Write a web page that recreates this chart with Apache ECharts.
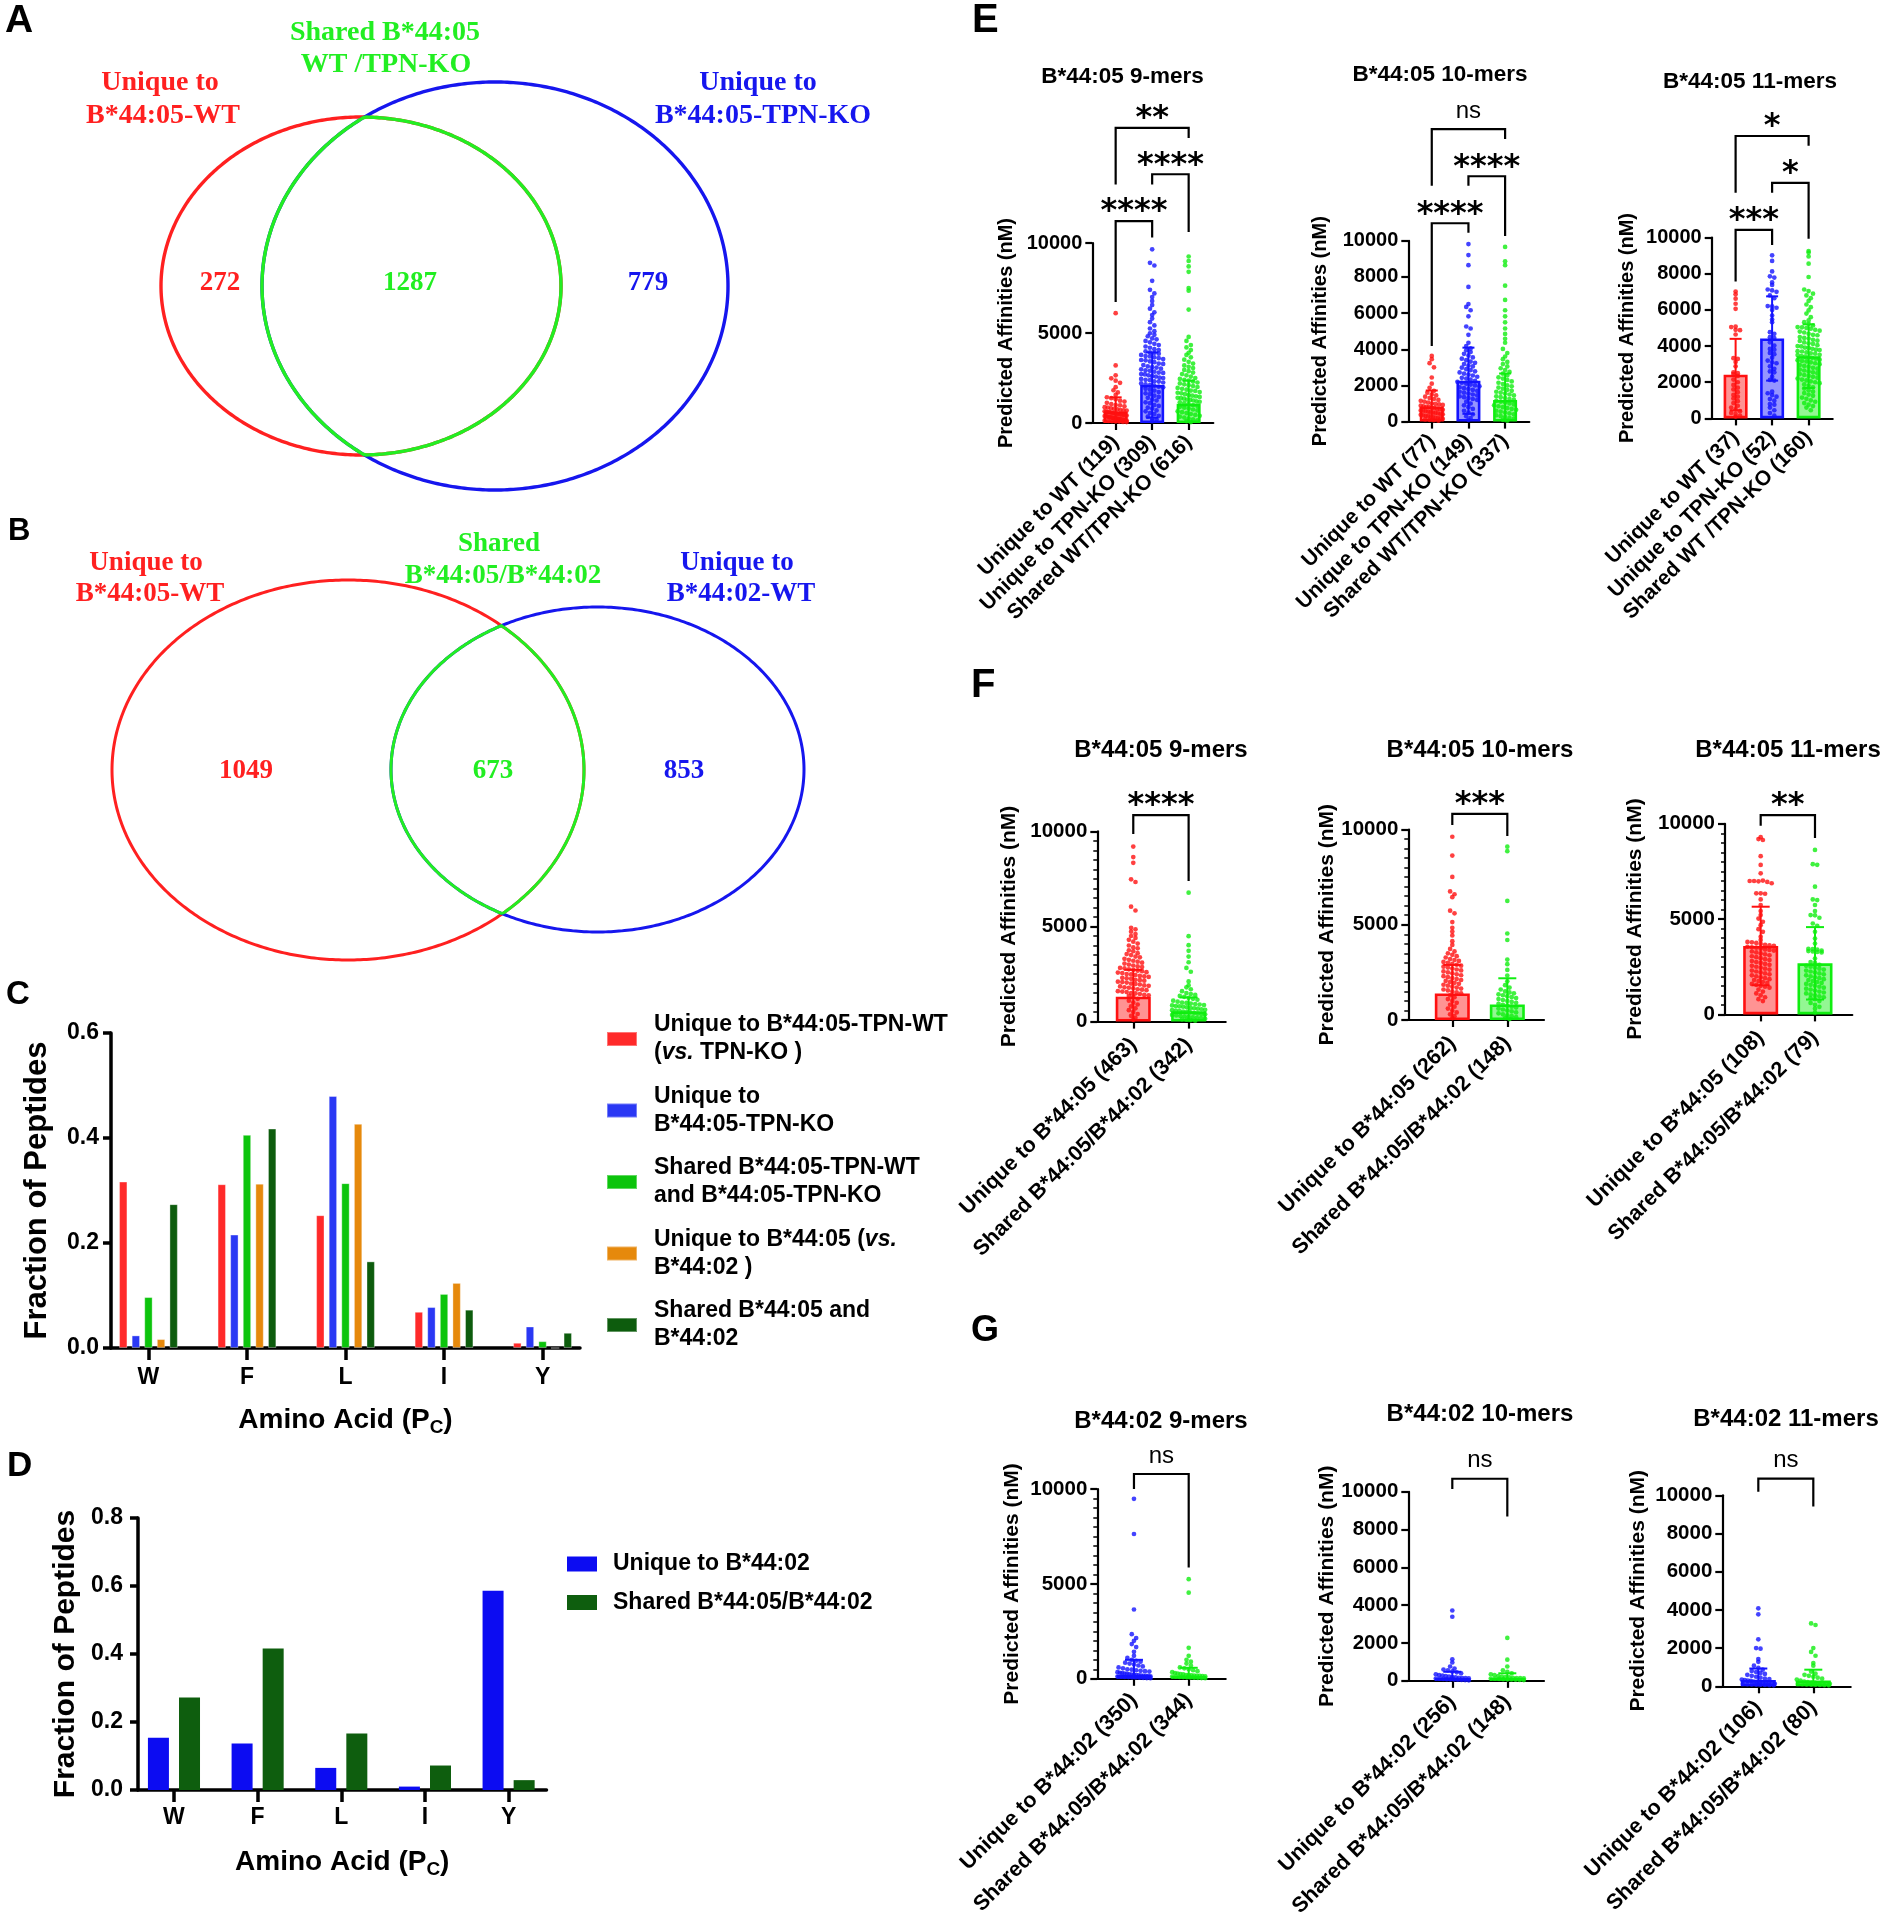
<!DOCTYPE html>
<html lang="en">
<head>
<meta charset="UTF-8">
<title>B*44:05 / B*44:02 peptide repertoires</title>
<script src="https://cdn.jsdelivr.net/npm/echarts@6/dist/echarts.min.js"></script>
<style>
    html, body { margin: 0; padding: 0; background: #fff; }
    #chart { width: 1884px; height: 1920px; }
</style>
</head>
<body>
<div id="chart"></div>
<script>
// ---------- data ----------
// A / B : Venn counts (left, shared, right)
var vennACounts = [272, 1287, 779];
var vennBCounts = [1049, 673, 853];

// C / D : fraction of peptides by C-terminal amino acid
var aminoAcids = ['W', 'F', 'L', 'I', 'Y'];
var cUniqueTpnWt = [0.317, 0.312, 0.253, 0.069, 0.010];
var cUniqueTpnKo = [0.024, 0.216, 0.480, 0.078, 0.041];
var cSharedWtKo = [0.097, 0.406, 0.314, 0.103, 0.013];
var cUnique4405 = [0.017, 0.313, 0.427, 0.124, 0.000];
var cShared4405_4402 = [0.274, 0.418, 0.165, 0.073, 0.029];
var dUnique4402 = [0.154, 0.137, 0.065, 0.010, 0.586];
var dShared4405_4402 = [0.272, 0.416, 0.166, 0.072, 0.029];

// E : B*44:05 WT vs TPN-KO predicted affinities (nM)
var e9Labels = ['Unique to WT (119)', 'Unique to TPN-KO (309)', 'Shared WT/TPN-KO (616)'];
var e9Mean = [635, 2110, 1065];
var e9Sd = [790, 1810, 1290];
var e9Wt = [6100, 3200, 2650, 2480, 2350, 2230, 1990, 1820, 1700, 1560, 1430, 1380, 1320, 1240, 1190, 1120, 1050, 1000,
    980, 930, 880, 860, 820, 790, 760, 720, 700, 690, 650, 640, 610, 600, 580, 560, 540, 520, 510, 490, 470, 460, 440,
    420, 410, 390, 380, 360, 340, 330, 310, 300, 280, 270, 260, 240, 230, 210, 200, 190, 170, 160, 140, 130, 120, 100, 90, 80, 60, 50];
var e9Ko = [9650, 8900, 8750, 7900, 7400, 7200, 7000, 6780, 6550, 6350, 6150, 6000, 5800, 5600, 5420, 5250, 5100, 4980,
    4900, 4820, 4700, 4650, 4560, 4480, 4400, 4330, 4250, 4180, 4100, 4050, 3980, 3920, 3900, 3850, 3780, 3720, 3700,
    3650, 3600, 3550, 3500, 3480, 3420, 3380, 3300, 3280, 3220, 3150, 3100, 3080, 3020, 2980, 2920, 2900, 2850, 2800,
    2780, 2720, 2700, 2650, 2600, 2580, 2520, 2500, 2450, 2400, 2380, 2320, 2300, 2250, 2200, 2150, 2100, 2080, 2020,
    1980, 1900, 1850, 1800, 1720, 1650, 1600, 1520, 1450, 1400, 1300, 1250, 1150, 1100, 1000, 950, 850, 800, 700, 650,
    550, 500, 400, 350, 250, 200, 100];
var e9Shared = [9250, 9000, 8700, 8400, 7500, 7350, 6300, 4780, 4560, 4330, 4200, 4050, 3900, 3780, 3650, 3520, 3400,
    3300, 3200, 3120, 3050, 2950, 2880, 2800, 2720, 2650, 2580, 2500, 2450, 2400, 2350, 2300, 2250, 2200, 2150, 2100,
    2050, 2000, 1950, 1900, 1850, 1800, 1780, 1720, 1680, 1650, 1600, 1550, 1520, 1480, 1450, 1400, 1380, 1350, 1300,
    1280, 1250, 1200, 1180, 1150, 1100, 1050, 1000, 950, 900, 850, 800, 750, 700, 650, 600, 550, 500, 450, 400, 350,
    300, 250, 200, 150, 100, 50];

var e10Labels = ['Unique to WT (77)', 'Unique to TPN-KO (149)', 'Shared WT/TPN-KO (337)'];
var e10Mean = [840, 2260, 1200];
var e10Sd = [880, 1830, 1460];
var e10Wt = [3630, 3450, 3230, 3000, 2440, 2100, 1870, 1700, 1600, 1500, 1450, 1380, 1300, 1250, 1200, 1150, 1100,
    1050, 1000, 980, 950, 920, 880, 850, 820, 800, 760, 740, 700, 680, 650, 620, 600, 580, 550, 520, 500, 480, 450, 420,
    400, 380, 350, 320, 300, 280, 250, 220, 200, 180, 150, 120, 100, 80, 50];
var e10Ko = [9820, 9210, 8650, 7450, 6500, 6340, 6160, 5820, 5260, 5150, 4800, 4360, 4180, 4050, 3950, 3850, 3750,
    3650, 3550, 3480, 3400, 3320, 3250, 3180, 3100, 3050, 2980, 2900, 2850, 2780, 2720, 2650, 2600, 2550, 2480, 2420,
    2380, 2320, 2260, 2200, 2150, 2100, 2050, 2000, 1950, 1900, 1850, 1800, 1750, 1700, 1650, 1600, 1550, 1500, 1450,
    1400, 1350, 1300, 1250, 1200, 1100, 1000, 900, 800, 700, 600, 500, 400, 300, 200, 100];
var e10Shared = [9660, 8870, 8650, 7520, 6730, 6160, 5820, 5490, 5150, 4850, 4580, 4360, 4020, 3790, 3600, 3450, 3300,
    3180, 3050, 2950, 2850, 2750, 2650, 2550, 2450, 2380, 2300, 2220, 2150, 2080, 2000, 1950, 1880, 1820, 1760, 1700,
    1650, 1600, 1550, 1500, 1450, 1400, 1350, 1300, 1250, 1200, 1150, 1100, 1050, 1000, 950, 900, 850, 800, 750, 700,
    650, 600, 550, 500, 450, 400, 350, 300, 250, 200, 150, 100, 50];

var e11Labels = ['Unique to WT (37)', 'Unique to TPN-KO (52)', 'Shared WT /TPN-KO (160)'];
var e11Mean = [2420, 4420, 3440];
var e11Sd = [1980, 2330, 1760];
var e11Wt = [7020, 6860, 6620, 6340, 6060, 5080, 5050, 4900, 4880, 4640, 3330, 3290, 3120, 2880, 2550, 2500, 2450,
    2350, 2150, 2000, 1850, 1700, 1600, 1450, 1300, 1200, 1100, 950, 850, 700, 600, 500, 400, 300, 250, 150, 100];
var e11Ko = [9020, 8710, 8130, 7860, 7790, 7520, 7380, 7130, 7080, 7000, 6800, 6650, 6210, 6200, 6120, 6000, 5690,
    5470, 5320, 4770, 4680, 4490, 4440, 4210, 4030, 3840, 3800, 3620, 3550, 3360, 3200, 3100, 3050, 2880, 2740, 2600,
    2550, 2310, 2130, 2090, 1480, 1390, 1290, 1070, 980, 790, 760, 600, 450, 300, 150, 1200];
var e11Shared = [9260, 9170, 8960, 8560, 7820, 7130, 7040, 6900, 6800, 6650, 6500, 6300, 6150, 5970, 5800, 5600, 5420,
    5320, 5230, 5140, 5050, 5040, 5000, 4960, 4900, 4850, 4800, 4750, 4680, 4620, 4600, 4500, 4450, 4420, 4350, 4300,
    4280, 4200, 4150, 4120, 4050, 4000, 3980, 3920, 3900, 3850, 3800, 3780, 3720, 3700, 3650, 3600, 3580, 3520, 3500,
    3450, 3420, 3380, 3350, 3300, 3250, 3220, 3180, 3150, 3100, 3050, 3000, 2950, 2900, 2850, 2800, 2750, 2700, 2650,
    2600, 2550, 2500, 2450, 2400, 2350, 2300, 2250, 2200, 2150, 2100, 2050, 2000, 1950, 1880, 1800, 1720, 1650, 1560,
    1480, 1400, 1320, 1250, 1150, 1080, 1000, 920, 850, 760, 680, 600, 450];

// F : unique to B*44:05 vs shared with B*44:02
var f9Labels = ['Unique to B*44:05 (463)', 'Shared B*44:05/B*44:02 (342)'];
var f9Mean = [1310, 540];
var f9Sd = [1410, 730];
var f9Unique = [9200, 8650, 8350, 7480, 7340, 6040, 5840, 4930, 4850, 4730, 4600, 4500, 4400, 4300, 4200, 4100, 4000,
    3900, 3850, 3750, 3700, 3600, 3550, 3500, 3420, 3380, 3300, 3250, 3200, 3150, 3100, 3050, 3000, 2950, 2900, 2870,
    2820, 2800, 2750, 2720, 2680, 2650, 2600, 2580, 2550, 2500, 2480, 2450, 2400, 2380, 2350, 2300, 2280, 2250, 2200,
    2180, 2150, 2100, 2080, 2050, 2000, 1980, 1950, 1900, 1880, 1850, 1800, 1780, 1750, 1700, 1680, 1650, 1600, 1580,
    1550, 1500, 1480, 1450, 1400, 1380, 1350, 1300, 1200, 1100, 1000, 900, 800, 700, 600, 500, 400, 300, 200, 100];
var f9Shared = [6780, 4490, 4020, 3720, 3420, 3120, 2820, 2620, 2110, 1910, 1800, 1700, 1600, 1500, 1450, 1400, 1350,
    1300, 1250, 1200, 1150, 1100, 1050, 1000, 980, 950, 920, 900, 870, 850, 820, 800, 780, 750, 720, 700, 680, 650, 620,
    600, 580, 550, 520, 500, 480, 450, 420, 400, 380, 350, 320, 300, 280, 250, 220, 200, 180, 150, 120, 100, 80, 50];

var f10Labels = ['Unique to B*44:05 (262)', 'Shared B*44:05/B*44:02 (148)'];
var f10Mean = [1390, 820];
var f10Sd = [1500, 1370];
var f10Unique = [9620, 8630, 7510, 6750, 6600, 6450, 5740, 5600, 5140, 4840, 4640, 4440, 4140, 3940, 3730, 3600, 3500,
    3420, 3350, 3280, 3200, 3150, 3100, 3050, 3000, 2950, 2900, 2850, 2800, 2750, 2700, 2650, 2600, 2550, 2500, 2450,
    2400, 2350, 2300, 2250, 2200, 2150, 2100, 2050, 2000, 1950, 1900, 1850, 1800, 1750, 1700, 1650, 1600, 1550, 1500,
    1450, 1400, 1300, 1200, 1100, 1000, 900, 800, 700, 600, 500, 400, 300, 200, 100];
var f10Shared = [9100, 8860, 6250, 4540, 4200, 3170, 2930, 2630, 2330, 2030, 1830, 1700, 1600, 1500, 1450, 1400, 1350,
    1300, 1250, 1200, 1150, 1100, 1050, 1000, 950, 900, 850, 800, 750, 700, 650, 600, 550, 500, 450, 400, 350, 300, 250,
    200, 150, 100, 50];

var f11Labels = ['Unique to B*44:05 (108)', 'Shared B*44:05/B*44:02 (79)'];
var f11Mean = [3590, 2680];
var f11Sd = [2060, 1900];
var f11Unique = [9300, 9200, 9150, 8300, 7840, 7400, 7000, 7000, 6980, 7020, 6950, 6880, 6350, 6350, 6330, 6030, 5740,
    5420, 5210, 5030, 4860, 4680, 4470, 4330, 4070, 3900, 3800, 3780, 3750, 3700, 3650, 3620, 3600, 3550, 3520, 3500,
    3450, 3400, 3380, 3350, 3300, 3250, 3200, 3150, 3100, 3050, 3000, 2950, 2900, 2850, 2800, 2750, 2700, 2650, 2600,
    2550, 2500, 2450, 2400, 2350, 2300, 2250, 2200, 2150, 2100, 2050, 2000, 1950, 1900, 1850, 1800, 1750, 1700, 1650,
    1600, 1550, 1500, 1450, 1400, 1300, 1200, 1100, 1000, 900, 800, 700];
var f11Shared = [8630, 7880, 7850, 6700, 6030, 6000, 5740, 5420, 5210, 5200, 5070, 4770, 4650, 4330, 3980, 3720, 3440,
    3420, 3400, 3350, 3320, 3300, 3280, 3250, 2930, 2750, 2700, 2600, 2550, 2500, 2450, 2400, 2350, 2300, 2250, 2200,
    2150, 2100, 2050, 2000, 1950, 1900, 1850, 1800, 1750, 1700, 1650, 1600, 1550, 1500, 1450, 1400, 1350, 1300, 1250,
    1200, 1150, 1100, 1050, 1000, 950, 900, 850, 800, 700, 600, 500, 400, 300, 100];

// G : unique to B*44:02 vs shared with B*44:05
var g9Labels = ['Unique to B*44:02 (350)', 'Shared B*44:05/B*44:02 (344)'];
var g9Mean = [200, 150];
var g9Sd = [800, 430];
var g9Unique = [9480, 7630, 3650, 2350, 2150, 2000, 1830, 1670, 1420, 1210, 1100, 1000, 950, 900, 850, 800, 750, 700,
    650, 600, 550, 500, 480, 450, 420, 400, 380, 350, 320, 300, 280, 260, 240, 220, 200, 190, 180, 170, 160, 150, 140,
    130, 120, 110, 100, 90, 80, 70, 60, 50, 40, 30];
var g9Shared = [5250, 4540, 1630, 1210, 1000, 900, 800, 700, 600, 550, 500, 450, 400, 350, 300, 280, 250, 230, 200,
    190, 180, 170, 160, 150, 140, 130, 120, 110, 100, 90, 80, 70, 60, 50, 40, 30];

var g10Labels = ['Unique to B*44:02 (256)', 'Shared B*44:05/B*44:02 (148)'];
var g10Mean = [150, 150];
var g10Sd = [330, 250];
var g10Unique = [3720, 3390, 1140, 970, 760, 650, 600, 550, 500, 450, 400, 350, 300, 280, 250, 230, 200, 180, 160,
    150, 140, 130, 120, 110, 100, 90, 80, 70, 60, 50, 40, 30];
var g10Shared = [2270, 1120, 760, 560, 480, 400, 350, 300, 250, 220, 200, 180, 160, 150, 140, 130, 120, 110, 100, 90,
    80, 70, 60, 50, 40];

var g11Labels = ['Unique to B*44:02 (106)', 'Shared B*44:05/B*44:02 (80)'];
var g11Mean = [330, 310];
var g11Sd = [600, 560];
var g11Unique = [4080, 3770, 2460, 2000, 1970, 1430, 1280, 1080, 970, 870, 800, 750, 700, 650, 600, 550, 500, 450, 400,
    380, 350, 320, 300, 280, 250, 230, 200, 180, 160, 150, 140, 130, 120, 110, 100, 90, 80, 70, 60, 50];
var g11Shared = [3290, 3210, 2000, 1800, 1600, 1220, 1080, 770, 660, 600, 550, 500, 450, 400, 350, 300, 250, 220, 200,
    180, 160, 150, 140, 130, 120, 110, 100, 90, 80, 70, 60, 50];

// ---------- styles / layout ----------
var SANS = '"Liberation Sans", Arial, sans-serif';
var SERIF = '"Liberation Serif", "Times New Roman", serif';
var RED = '#ff1010', BLUE = '#1414ff', GREEN = '#10ee10';
var FILL = {};
FILL[RED] = 'rgba(255,16,16,0.45)';
FILL[BLUE] = 'rgba(20,20,255,0.45)';
FILL[GREEN] = 'rgba(16,238,16,0.45)';
var VENN_RED = '#ff2020', VENN_GREEN = '#22ee22', VENN_BLUE = '#1616ee';
var DOT = 4.7, DOT_STEP = 4.4;

function font(w, s, fam) { return w + ' ' + s + 'px ' + fam; }

var grids = [], xAxes = [], yAxes = [], series = [];

function addGrid(g, x, y) {
    var i = grids.length;
    grids.push(g);
    x.gridIndex = i; y.gridIndex = i;
    xAxes.push(x); yAxes.push(y);
    return i;
}

// ---------- Venn diagrams (A, B) on a hidden pixel-unit grid ----------
var vennLayouts = [
    {sets: [[361, 286, 200, 169], [495, 286, 233, 204]], lw: 3.4,
        anchors: [[220, 283.5], [410, 283.5], [648, 283.5]], counts: vennACounts},
    {sets: [[348, 770, 236, 190], [597.5, 769.5, 206.5, 162.5]], lw: 3,
        anchors: [[246, 771], [493, 771], [684, 771]], counts: vennBCounts}
];
var vennGrid = addGrid({left: 0, top: 0, width: 940, height: 980},
    {type: 'value', min: 0, max: 940, show: false},
    {type: 'value', min: 0, max: 980, inverse: true, show: false});

function ellipseArc(e, api, t0, keep) {
    var pts = [];
    for (var k = 0; k <= 480; k++) {
        var t = t0 + 2 * Math.PI * k / 480;
        var x = e[0] + e[2] * Math.cos(t), y = e[1] + e[3] * Math.sin(t);
        if (!keep || keep(x, y)) pts.push(api.coord([x, y]));
    }
    return pts;
}
function insideOf(e) {
    return function (x, y) {
        var dx = (x - e[0]) / e[2], dy = (y - e[1]) / e[3];
        return dx * dx + dy * dy <= 1;
    };
}

series.push({
    type: 'custom', xAxisIndex: vennGrid, yAxisIndex: vennGrid, clip: false, silent: true,
    data: vennLayouts.map(function (v) { return [v.sets[0][0], v.sets[0][1]]; }),
    renderItem: function (params, api) {
        var v = vennLayouts[params.dataIndex];
        var r = v.sets[0], b = v.sets[1];
        var lens = ellipseArc(b, api, 0, insideOf(r)).concat(ellipseArc(r, api, Math.PI, insideOf(b)));
        return {type: 'group', children: [
            {type: 'polygon', shape: {points: ellipseArc(r, api, 0)}, style: {fill: 'none', stroke: VENN_RED, lineWidth: v.lw}},
            {type: 'polygon', shape: {points: ellipseArc(b, api, 0)}, style: {fill: 'none', stroke: VENN_BLUE, lineWidth: v.lw}},
            {type: 'polygon', shape: {points: lens}, style: {fill: 'none', stroke: VENN_GREEN, lineWidth: v.lw}}
        ]};
    }
});

var vennCountData = [];
vennLayouts.forEach(function (v) {
    v.counts.forEach(function (c, j) { vennCountData.push([v.anchors[j][0], v.anchors[j][1], c, j]); });
});
series.push({
    type: 'custom', xAxisIndex: vennGrid, yAxisIndex: vennGrid, clip: false, silent: true,
    data: vennCountData,
    renderItem: function (params, api) {
        var p = api.coord([api.value(0), api.value(1)]);
        var col = [VENN_RED, VENN_GREEN, VENN_BLUE][api.value(3)];
        return {type: 'text', x: p[0], y: p[1], style: {
            text: String(api.value(2)), fill: col, font: font('bold', 27, SERIF),
            align: 'center', verticalAlign: 'middle', textAlign: 'center', textVerticalAlign: 'middle'}};
    }
});

// ---------- C and D grouped bars ----------
function barAxes(min, max, ymax, lblSize, yMargin, xMargin, yGap, xGap, ynameSize) {
    return {
        x: {type: 'value', min: min, max: max,
            axisLine: {show: true, onZero: false, lineStyle: {color: '#000', width: 3.5}},
            axisTick: {show: true, customValues: [0, 1, 2, 3, 4], length: 12, lineStyle: {color: '#000', width: 3.5}},
            axisLabel: {customValues: [0, 1, 2, 3, 4], margin: xMargin, color: '#000', fontSize: lblSize, fontWeight: 'bold',
                fontFamily: SANS, formatter: function (v) { return aminoAcids[Math.round(v)]; }},
            splitLine: {show: false},
            name: 'Amino Acid (P{sub|C})', nameLocation: 'middle', nameGap: xGap,
            nameTextStyle: {color: '#000', fontSize: 28, fontWeight: 'bold', fontFamily: SANS,
                rich: {sub: {fontSize: 19, fontWeight: 'bold', fontFamily: SANS, color: '#000', padding: [14, 0, 0, 0]}}}},
        y: {type: 'value', min: 0, max: ymax, interval: 0.2,
            axisLine: {show: true, onZero: false, lineStyle: {color: '#000', width: 3.5}},
            axisTick: {show: true, length: 8, lineStyle: {color: '#000', width: 3.5}},
            axisLabel: {margin: yMargin, color: '#000', fontSize: lblSize, fontWeight: 'bold', fontFamily: SANS,
                formatter: function (v) { return v.toFixed(1); }},
            splitLine: {show: false},
            name: 'Fraction of Peptides', nameLocation: 'middle', nameRotate: 90, nameGap: yGap,
            nameTextStyle: {color: '#000', fontSize: ynameSize, fontWeight: 'bold', fontFamily: SANS}}
    };
}

var cAx = barAxes(-0.38, 4.38, 0.6, 23, 12, 18, 58, 56, 31);
var cGrid = addGrid({left: 111, top: 1033, width: 469, height: 315}, cAx.x, cAx.y);
var dAx = barAxes(-0.43, 4.453, 0.8, 23, 15, 16, 57, 56, 30);
var dGrid = addGrid({left: 138, top: 1518, width: 408.5, height: 272}, dAx.x, dAx.y);

var cSeries = [
    ['Unique to B*44:05-TPN-WT\n(vs. TPN-KO )', cUniqueTpnWt, '#ff2a2a'],
    ['Unique to\nB*44:05-TPN-KO', cUniqueTpnKo, '#2a38f4'],
    ['Shared B*44:05-TPN-WT\nand B*44:05-TPN-KO', cSharedWtKo, '#0cc40c'],
    ['Unique to B*44:05 (vs.\nB*44:02 )', cUnique4405, '#e6890c'],
    ['Shared B*44:05 and\nB*44:02', cShared4405_4402, '#0d5c0d']
];
cSeries.forEach(function (s) {
    series.push({type: 'bar', name: s[0], xAxisIndex: cGrid, yAxisIndex: cGrid, barWidth: 8.4, barGap: '50%',
        itemStyle: {color: s[2], borderColor: 'rgba(255,255,255,0.35)', borderWidth: 1},
        data: aminoAcids.map(function (a, i) { return [i, s[1][i]]; })});
});
var dSeries = [
    ['Unique to B*44:02', dUnique4402, '#0c0cf2'],
    ['Shared B*44:05/B*44:02', dShared4405_4402, '#0e5e0e']
];
dSeries.forEach(function (s) {
    series.push({type: 'bar', name: s[0], xAxisIndex: dGrid, yAxisIndex: dGrid, barWidth: 21, barGap: '48%',
        itemStyle: {color: s[2]},
        data: aminoAcids.map(function (a, i) { return [i, s[1][i]]; })});
});

// ---------- E / F / G scatter-with-bar panels ----------
var panels = [
    {title: 'B*44:05 9-mers', tx: 1122.5, ty: 76.5, ts: 22.5, left: 1092.3, top: 243, width: 121, height: 180,
        xmin: -0.64, xmax: 2.675, yint: 5000, minor: false, labels: e9Labels, groups: [e9Wt, e9Ko, e9Shared],
        means: e9Mean, sds: e9Sd, colors: [RED, BLUE, GREEN], barW: 24, capW: 12, fs: 20, lfs: 21, lm: 16, nameGap: 76,
        brackets: [[0, 2, 16400, 13250, 15830, '**'], [1, 2, 13820, 13250, 10610, '****'], [0, 1, 11220, 6720, 10300, '****']]},
    {title: 'B*44:05 10-mers', tx: 1440, ty: 74.5, ts: 22.5, left: 1408.3, top: 240.8, width: 121, height: 180.8,
        xmin: -0.64, xmax: 2.66, yint: 2000, minor: false, labels: e10Labels, groups: [e10Wt, e10Ko, e10Shared],
        means: e10Mean, sds: e10Sd, colors: [RED, BLUE, GREEN], barW: 24, capW: 12, fs: 20, lfs: 21, lm: 16, nameGap: 78,
        brackets: [[0, 2, 16180, 13050, 15630, 'ns'], [1, 2, 13570, 13050, 10270, '****'], [0, 1, 10970, 4180, 10450, '****']]},
    {title: 'B*44:05 11-mers', tx: 1750, ty: 82, ts: 22.5, left: 1711.7, top: 237.6, width: 121, height: 180.8,
        xmin: -0.655, xmax: 2.66, yint: 2000, minor: false, labels: e11Labels, groups: [e11Wt, e11Ko, e11Shared],
        means: e11Mean, sds: e11Sd, colors: [RED, BLUE, GREEN], barW: 24, capW: 12, fs: 20, lfs: 21, lm: 16, nameGap: 74,
        brackets: [[0, 2, 15620, 12480, 15080, '*'], [1, 2, 13025, 12480, 9930, '*'], [0, 1, 10430, 7570, 9590, '***']]},
    {title: 'B*44:05 9-mers', tx: 1161, ty: 750, ts: 24, left: 1097.3, top: 831.4, width: 128.4, height: 190.2,
        xmin: -0.65, xmax: 1.67, yint: 5000, minor: true, labels: f9Labels, groups: [f9Unique, f9Shared],
        means: f9Mean, sds: f9Sd, colors: [RED, GREEN], barW: 35, capW: 18, fs: 20.5, lfs: 21.5, lm: 20, nameGap: 78,
        brackets: [[0, 1, 10860, 9860, 7390, '****']]},
    {title: 'B*44:05 10-mers', tx: 1480, ty: 750, ts: 24, left: 1408.3, top: 829.5, width: 135.7, height: 190.5,
        xmin: -0.8, xmax: 1.667, yint: 5000, minor: true, labels: f10Labels, groups: [f10Unique, f10Shared],
        means: f10Mean, sds: f10Sd, colors: [RED, GREEN], barW: 35, capW: 18, fs: 20.5, lfs: 21.5, lm: 20, nameGap: 71,
        brackets: [[0, 1, 10820, 10240, 9660, '***']]},
    {title: 'B*44:05 11-mers', tx: 1788, ty: 750, ts: 24, left: 1725, top: 823.8, width: 127.3, height: 190.6,
        xmin: -0.657, xmax: 1.687, yint: 5000, minor: true, labels: f11Labels, groups: [f11Unique, f11Shared],
        means: f11Mean, sds: f11Sd, colors: [RED, GREEN], barW: 35, capW: 18, fs: 20.5, lfs: 21.5, lm: 20, nameGap: 79,
        brackets: [[0, 1, 10460, 9900, 9250, '**']]},
    {title: 'B*44:02 9-mers', tx: 1161, ty: 1421.6, ts: 24, left: 1097.3, top: 1489, width: 128.4, height: 189.8,
        xmin: -0.67, xmax: 1.676, yint: 5000, minor: true, labels: g9Labels, groups: [g9Unique, g9Shared],
        means: g9Mean, sds: g9Sd, colors: [BLUE, GREEN], barW: 35, capW: 18, fs: 20.5, lfs: 21.5, lm: 18, nameGap: 75,
        brackets: [[0, 1, 10790, 10000, 5870, 'ns']]},
    {title: 'B*44:02 10-mers', tx: 1480, ty: 1414.7, ts: 24, left: 1408.3, top: 1491.8, width: 135.7, height: 190.6,
        xmin: -0.8, xmax: 1.667, yint: 2000, minor: false, labels: g10Labels, groups: [g10Unique, g10Shared],
        means: g10Mean, sds: g10Sd, colors: [BLUE, GREEN], barW: 35, capW: 18, fs: 20.5, lfs: 21.5, lm: 18, nameGap: 68,
        brackets: [[0, 1, 10690, 10150, 8690, 'ns']]},
    {title: 'B*44:02 11-mers', tx: 1786, ty: 1419, ts: 24, left: 1722.3, top: 1495.3, width: 128.4, height: 191,
        xmin: -0.655, xmax: 1.68, yint: 2000, minor: false, labels: g11Labels, groups: [g11Unique, g11Shared],
        means: g11Mean, sds: g11Sd, colors: [BLUE, GREEN], barW: 35, capW: 18, fs: 20.5, lfs: 21.5, lm: 18, nameGap: 74,
        brackets: [[0, 1, 10870, 10180, 9420, 'ns']]}
];

// spread dots sharing a row (one dot height) side by side, like a dot plot
function swarm(values, gi, pxPerVal, halfW, color) {
    var rows = {}, out = [];
    values.forEach(function (v) {
        var r = Math.round(v * pxPerVal / DOT);
        (rows[r] = rows[r] || []).push(v);
    });
    Object.keys(rows).forEach(function (r) {
        var row = rows[r], n = row.length;
        var step = n > 1 ? Math.min(DOT_STEP, 2 * halfW / (n - 1)) : 0;
        row.forEach(function (v, j) {
            out.push({value: [gi, v], symbolOffset: [(j - (n - 1) / 2) * step, 0], itemStyle: {color: color}});
        });
    });
    return out;
}

panels.forEach(function (p) {
    var n = p.labels.length;
    var idx = [];
    for (var i = 0; i < n; i++) idx.push(i);
    var k = addGrid({left: p.left, top: p.top, width: p.width, height: p.height},
        {type: 'value', min: p.xmin, max: p.xmax, splitLine: {show: false},
            axisLine: {show: true, onZero: false, lineStyle: {color: '#000', width: 2.2}},
            axisTick: {show: true, customValues: idx, length: 7, lineStyle: {color: '#000', width: 2.2}},
            axisLabel: {customValues: idx, rotate: 45, margin: p.lm, color: '#000', fontSize: p.lfs, fontWeight: 'bold',
                fontFamily: SANS, formatter: function (v) { return p.labels[Math.round(v)]; }}},
        {type: 'value', min: 0, max: 10000, interval: p.yint, splitLine: {show: false},
            axisLine: {show: true, onZero: false, lineStyle: {color: '#000', width: 2.2}},
            axisTick: {show: true, length: 7, lineStyle: {color: '#000', width: 2.2}},
            minorTick: {show: p.minor, splitNumber: 10, length: 4, lineStyle: {color: '#000', width: 1.5}},
            axisLabel: {margin: 10, color: '#000', fontSize: p.fs, fontWeight: 'bold', fontFamily: SANS,
                formatter: function (v) { return String(v); }},
            name: 'Predicted Affinities (nM)', nameLocation: 'middle', nameRotate: 90, nameGap: p.nameGap,
            nameTextStyle: {color: '#000', fontSize: p.width > 125 ? 21 : 20, fontWeight: 'bold', fontFamily: SANS}});

    series.push({type: 'bar', xAxisIndex: k, yAxisIndex: k, barWidth: p.barW, silent: true, z: 1,
        data: p.means.map(function (m, i) {
            return {value: [i, m], itemStyle: {color: FILL[p.colors[i]], borderColor: p.colors[i], borderWidth: 2.6}};
        })});

    var pxPerVal = p.height / 10000, dots = [];
    p.groups.forEach(function (vals, g) {
        dots = dots.concat(swarm(vals, g, pxPerVal, p.barW / 2 - 1, p.colors[g]));
    });
    series.push({type: 'scatter', xAxisIndex: k, yAxisIndex: k, symbolSize: DOT, silent: true, z: 3, data: dots});

    series.push({type: 'custom', xAxisIndex: k, yAxisIndex: k, silent: true, z: 4, clip: false,
        data: p.means.map(function (m, i) { return [i, m, p.sds[i]]; }),
        renderItem: function (params, api) {
            var i = api.value(0), m = api.value(1), s = api.value(2);
            var top = api.coord([i, m + s]), bot = api.coord([i, Math.max(0, m - s)]);
            var hw = p.capW / 2, st = {stroke: p.colors[params.dataIndex], lineWidth: 2};
            var ch = [
                {type: 'line', shape: {x1: top[0], y1: top[1], x2: bot[0], y2: bot[1]}, style: st},
                {type: 'line', shape: {x1: top[0] - hw, y1: top[1], x2: top[0] + hw, y2: top[1]}, style: st}
            ];
            if (m - s > 0) ch.push({type: 'line', shape: {x1: bot[0] - hw, y1: bot[1], x2: bot[0] + hw, y2: bot[1]}, style: st});
            return {type: 'group', children: ch};
        }});

    series.push({type: 'custom', xAxisIndex: k, yAxisIndex: k, silent: true, z: 5, clip: false,
        data: p.brackets.map(function (b) { return [b[0], b[2]]; }),
        renderItem: function (params, api) {
            var b = p.brackets[params.dataIndex];
            var a = api.coord([b[0], b[2]]), c = api.coord([b[1], b[2]]);
            var la = api.coord([b[0], b[3]]), lc = api.coord([b[1], b[4]]);
            var ns = b[5] === 'ns';
            return {type: 'group', children: [
                {type: 'polyline', shape: {points: [la, a, c, lc]}, style: {fill: null, stroke: '#000', lineWidth: 2.2}},
                {type: 'text', x: (a[0] + c[0]) / 2, y: a[1] - (ns ? 18 : 9), style: {
                    text: b[5], fill: '#000',
                    font: ns ? font('normal', 24, SANS) : font('bold', 32, '"DejaVu Sans", sans-serif'),
                    align: 'center', verticalAlign: 'middle', textAlign: 'center', textVerticalAlign: 'middle'}}
            ]};
        }});
});

// ---------- free text: panel letters, Venn set names, panel titles ----------
var texts = [];
function addText(str, x, y, size, color, fam, align) {
    texts.push({type: 'text', x: x, y: y, silent: true, style: {
        text: str, fill: color, font: font('bold', size, fam),
        align: align || 'center', textAlign: align || 'center', verticalAlign: 'middle', textVerticalAlign: 'middle'}});
}
[['A', 5, 21, 39], ['B', 8, 531, 31], ['C', 6, 995, 33], ['D', 7, 1466, 35],
    ['E', 972, 20.5, 40], ['F', 971, 686, 40], ['G', 971, 1331, 36]].forEach(function (l) {
    addText(l[0], l[1], l[2], l[3], '#000', SANS, 'left');
});
[['Shared B*44:05', 385, 32.5, VENN_GREEN], ['WT /TPN-KO', 386, 64.5, VENN_GREEN],
    ['Unique to', 160, 83, VENN_RED], ['B*44:05-WT', 163, 116, VENN_RED],
    ['Unique to', 758, 83, VENN_BLUE], ['B*44:05-TPN-KO', 763, 116, VENN_BLUE]].forEach(function (t) {
    addText(t[0], t[1], t[2], 28, t[3], SERIF);
});
[['Unique to', 146, 563, VENN_RED], ['B*44:05-WT', 150, 594, VENN_RED],
    ['Shared', 499, 544, VENN_GREEN], ['B*44:05/B*44:02', 503, 576, VENN_GREEN],
    ['Unique to', 737, 563, VENN_BLUE], ['B*44:02-WT', 741, 594, VENN_BLUE]].forEach(function (t) {
    addText(t[0], t[1], t[2], 27, t[3], SERIF);
});
panels.forEach(function (p) { addText(p.title, p.tx, p.ty, p.ts, '#000', SANS); });

var legendText = {color: '#000', fontSize: 23, fontWeight: 'bold', fontFamily: SANS, lineHeight: 28,
    rich: {i: {fontStyle: 'italic', fontWeight: 'bold', fontSize: 23, fontFamily: SANS, color: '#000', lineHeight: 28}}};

var chart = echarts.init(document.getElementById('chart'));
chart.setOption({
    animation: false,
    backgroundColor: '#fff',
    grid: grids,
    xAxis: xAxes,
    yAxis: yAxes,
    legend: [
        {left: 606, top: 1011, orient: 'vertical', padding: 0, itemWidth: 30, itemHeight: 14, itemGap: 15.5,
            icon: 'rect', selectedMode: false, data: cSeries.map(function (s) { return s[0]; }),
            formatter: function (name) { return name.replace('vs.', '{i|vs.}'); },
            textStyle: Object.assign({padding: [0, 0, 0, 12]}, legendText)},
        {left: 567, top: 1550, orient: 'vertical', padding: 0, itemWidth: 30, itemHeight: 15, itemGap: 10.5,
            icon: 'rect', selectedMode: false, data: dSeries.map(function (s) { return s[0]; }),
            textStyle: Object.assign({padding: [0, 0, 0, 11], lineHeight: 26}, legendText)}
    ],
    graphic: {elements: texts},
    series: series
});
</script>
</body>
</html>
